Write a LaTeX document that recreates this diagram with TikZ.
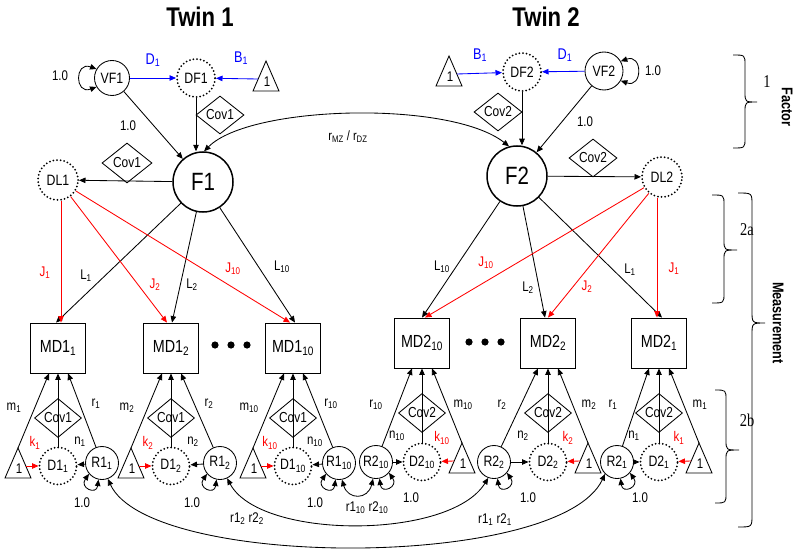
\documentclass[tikz,border=0pt]{standalone}
\usepackage{fontspec}
\setmainfont{Liberation Sans}[FakeStretch=0.82]
\newfontfamily\serifl{Liberation Serif}[FakeStretch=0.8]
\usetikzlibrary{arrows.meta,shapes.geometric}
\newcommand\sub[1]{\textsubscript{#1}}
\tikzset{
 >={Triangle[length=6.5pt,width=5.5pt]},
 lbl/.style={font=\fontsize{14}{16}\selectfont, inner sep=0pt},
 blbl/.style={font=\fontsize{15.5}{17}\selectfont, inner sep=0pt, text=blue},
 circ/.style={circle, draw, line width=0.85pt, inner sep=0pt, font=\fontsize{15}{17}\selectfont, fill=white},
 dcirc/.style={circ, line width=2pt, dash pattern=on 0pt off 3.6pt, line cap=round},
 bigc/.style={circle, draw, line width=1.5pt, minimum size=60pt, inner sep=0pt, font=\fontsize{25}{27}\selectfont},
 mdbox/.style={rectangle, draw, line width=0.85pt, minimum width=55pt, minimum height=50pt, font=\fontsize{17.5}{19}\selectfont},
 cov/.style={diamond, draw, line width=0.85pt, minimum width=48pt, minimum height=38pt, inner sep=0pt, font=\fontsize{14.5}{16}\selectfont},
 arr/.style={->, line width=0.85pt},
 dbl/.style={<->, line width=0.85pt},
 redarr/.style={arr, red},
 bluarr/.style={arr, blue},
 serlbl/.style={font=\serifl\fontsize{18}{19}\selectfont, inner sep=0pt},
 side/.style={font=\bfseries\fontsize{15.5}{17}\selectfont, rotate=-90, inner sep=0pt},
}
\newcommand\trinode[3]{%
  \draw[line width=0.85pt] (#2-13,#3+30) -- (#2,#3) -- (#2+13,#3+30) -- cycle;
  \node[lbl] (#1) at (#2+1,#3+21) {1};
  \coordinate (#1-apex) at (#2,#3);
  \coordinate (#1-r) at (#2+8,#3+18);
  \coordinate (#1-l) at (#2-8,#3+18);}
\newcommand\vbrace[7]{\draw[line width=0.85pt] (#1,#4) .. controls (#2,#4) .. (#2,#4+#7) -- (#2,#5-#7) .. controls (#2,#5) .. (#3,#5) .. controls (#2,#5) .. (#2,#5+#7) -- (#2,#6-#7) .. controls (#2,#6) .. (#1,#6);}
\newcommand\blockL[5]{%
 \trinode{T#1}{#3-40}{448}
 \node[dcirc, minimum size=37pt] (D#1) at (#3,466) {D1\sub{#2}};
 \node[circ, minimum size=33pt] (R#1) at (#4,463) {R1\sub{#2}};
 \node[cov, minimum width=47pt, minimum height=39pt] (C#1) at (#3,418) {Cov1};
 \draw[arr] (T#1-apex) -- ([xshift=-9pt]MD#1.south);
 \draw[arr] (D#1) -- (MD#1.south);
 \draw[arr] (R#1) -- ([xshift=10pt]MD#1.south);
 \draw[redarr] (T#1-r) -- (D#1);
 \draw[arr] (R#1) -- (D#1);
 \draw[dbl] (R#1.220) .. controls +(-10,14) and +(-2,16) .. (R#1.258);
 \node[lbl] (lm#1) at (#3-44,408) {m\sub{#2}};
 \node[lbl] (lr#1) at (#3+38,404) {r\sub{#2}};
 \node[lbl,text=red] (lk#1) at (#3-23,443) {k\sub{#2}};
 \node[lbl] (ln#1) at (#3+22,442) {n\sub{#2}};
 \node[lbl] (lv#1) at (#5,503) {1.0};
}
\newcommand\blockR[5]{%
 \trinode{T#1}{#3+40}{443}
 \node[dcirc, minimum size=37pt] (D#1) at (#3,462) {D2\sub{#2}};
 \node[circ, minimum size=33pt] (R#1) at (#4,462) {R2\sub{#2}};
 \node[cov, minimum width=47pt, minimum height=39pt] (C#1) at (#3,413) {Cov2};
 \draw[arr] (R#1) -- ([xshift=-10pt]MD#1.south);
 \draw[arr] (D#1) -- (MD#1.south);
 \draw[arr] (T#1-apex) -- ([xshift=10pt]MD#1.south);
 \draw[redarr] (T#1-l) -- (D#1);
 \draw[arr] (R#1) -- (D#1);
 \draw[dbl] (R#1.-40) .. controls +(10,14) and +(2,16) .. (R#1.-78);
 \node[lbl] (lr#1) at (#3-46,405) {r\sub{#2}};
 \node[lbl] (lm#1) at (#3+41,405) {m\sub{#2}};
 \node[lbl] (ln#1) at (#3-25,436) {n\sub{#2}};
 \node[lbl,text=red] (lk#1) at (#3+20,438) {k\sub{#2}};
 \node[lbl] (lv#1) at (#5,498) {1.0};
}
\begin{document}
\begin{tikzpicture}[x=1pt,y=-1pt]
\useasboundingbox (0,0) rectangle (800,559);
% titles
\node[font=\bfseries\fontsize{27}{29}\selectfont] (tw1) at (200,17) {Twin 1};
\node[font=\bfseries\fontsize{27}{29}\selectfont] (tw2) at (546,17) {Twin 2};
% ---------- twin 1 factor part
\node[circ, minimum size=35pt] (VF1) at (112,78) {VF1};
\node[dcirc, minimum size=38pt] (DF1) at (196,78) {DF1};
\trinode{Ttop1}{266}{61}
\node[bigc] (F1) at (203,182) {F1};
\node[dcirc, minimum size=40pt] (DL1) at (58,180) {DL1};
\node[cov] (CovA) at (220,115) {Cov1};
\node[cov, minimum width=50pt, minimum height=40pt] (CovB) at (127,163) {Cov1};
\draw[bluarr] (VF1) -- (DF1);
\draw[bluarr] (Ttop1-l) -- (DF1);
\draw[arr] (DF1.south) -- (DF1.south |- F1.north);
\draw[arr] (VF1) -- (F1);
\draw[arr] (F1) -- (DL1);
\draw[dbl] (VF1.150) .. controls +(-22,-8) and +(-22,8) .. (VF1.210);
\node[lbl] (v1a) at (60,76) {1.0};
\node[lbl] (v1b) at (128,126) {1.0};
\node[blbl] (lD1a) at (153,60) {D\sub{1}};
\node[blbl] (lB1a) at (241,58) {B\sub{1}};
% ---------- twin 2 factor part
\trinode{Ttop2}{449}{56}
\node[dcirc, minimum size=38pt] (DF2) at (522,72) {DF2};
\node[circ, minimum size=38pt] (VF2) at (604,71) {VF2};
\node[bigc] (F2) at (517,176) {F2};
\node[dcirc, minimum size=40pt] (DL2) at (662,177) {DL2};
\node[cov] (CovC) at (498,112) {Cov2};
\node[cov] (CovD) at (593,158) {Cov2};
\draw[bluarr] (Ttop2-r) -- (DF2);
\draw[bluarr] (VF2) -- (DF2);
\draw[arr] (DF2.south) -- (DF2.south |- F2.north);
\draw[arr] (VF2) -- (F2);
\draw[arr] (F2) -- (DL2);
\draw[dbl] (VF2.30) .. controls +(22,-8) and +(22,8) .. (VF2.-30);
\node[lbl] (v2a) at (653,71) {1.0};
\node[lbl] (v2b) at (585,122) {1.0};
\node[blbl] (lB1b) at (480,55) {B\sub{1}};
\node[blbl] (lD1b) at (565,55) {D\sub{1}};
% twin correlation
\draw[dbl] (F1.88) .. controls (250,105) and (450,100) .. (F2.105);
\node[font=\fontsize{13.5}{15}\selectfont, inner sep=0pt] (rmz) at (348,137) {r\sub{MZ} / r\sub{DZ}};
% ---------- measurement boxes
\node[mdbox] (MD11) at (58,348) {MD1\sub{1}};
\node[mdbox] (MD12) at (171,348) {MD1\sub{2}};
\node[mdbox] (MD110) at (293,348) {MD1\sub{10}};
\node[mdbox] (MD210) at (422,343) {MD2\sub{10}};
\node[mdbox] (MD22) at (548,343) {MD2\sub{2}};
\node[mdbox] (MD21) at (659,343) {MD2\sub{1}};
\foreach \dx in {215,231,247} \fill (\dx,345) circle (3.6pt);
\foreach \dx in {469,485,501} \fill (\dx,342) circle (3.6pt);
% loadings twin 1
\draw[arr] (F1) -- ([xshift=-2pt]MD11.north);
\draw[arr] (F1) -- ([xshift=1pt]MD12.north);
\draw[arr] (F1) -- ([xshift=2pt]MD110.north);
\draw[redarr] ([xshift=3pt]DL1.south) -- ([xshift=3pt]MD11.north);
\draw[redarr] (DL1) -- ([xshift=-4pt]MD12.north);
\draw[redarr] (DL1) -- ([xshift=-3pt]MD110.north);
\node[lbl] (L1a) at (86,276) {L\sub{1}};
\node[lbl] (L2a) at (192,285) {L\sub{2}};
\node[lbl] (L10a) at (282,267) {L\sub{10}};
\node[lbl,text=red] (J1a) at (45,273) {J\sub{1}};
\node[lbl,text=red] (J2a) at (155,285) {J\sub{2}};
\node[lbl,text=red] (J10a) at (233,269) {J\sub{10}};
% loadings twin 2
\draw[arr] (F2) -- (MD210.north);
\draw[arr] (F2) -- ([xshift=-3pt]MD22.north);
\draw[arr] (F2) -- ([xshift=3pt]MD21.north);
\draw[redarr] (DL2) -- ([xshift=3pt]MD210.north);
\draw[redarr] (DL2) -- (MD22.north);
\draw[redarr] ([xshift=-5pt]DL2.south) -- ([xshift=-2pt]MD21.north);
\node[lbl] (L10b) at (442,267) {L\sub{10}};
\node[lbl,text=red] (J10b) at (486,263) {J\sub{10}};
\node[lbl] (L2b) at (528,288) {L\sub{2}};
\node[lbl,text=red] (J2b) at (587,287) {J\sub{2}};
\node[lbl] (L1b) at (630,270) {L\sub{1}};
\node[lbl,text=red] (J1b) at (674,269) {J\sub{1}};
% ---------- residual blocks
\blockL{11}{1}{58}{102}{82}
\blockL{12}{2}{171}{220}{192}
\blockL{110}{10}{293}{339}{315}
\blockR{210}{10}{422}{376}{411}
\blockR{22}{2}{548}{494}{528}
\blockR{21}{1}{659}{617}{640}
% residual correlations
\draw[dbl] (R11.290) .. controls (150,570) and (560,570) .. (R21.225);
\draw[dbl] (R12.295) .. controls (260,540) and (450,540) .. (R22.250);
\draw[dbl] (R110.280) .. controls (348,500) and (368,500) .. (R210.260);
\node[lbl] (rr1) at (495,520) {r1\sub{1} r2\sub{1}};
\node[lbl] (rr2) at (247,519) {r1\sub{2} r2\sub{2}};
\node[lbl] (rr10) at (367,508) {r1\sub{10} r2\sub{10}};
% ---------- braces
\vbrace{733}{745}{757}{55}{102}{148}{10}
\vbrace{712}{724}{737}{195}{250}{303}{10}
\vbrace{715}{726}{739}{390}{450}{503}{10}
\vbrace{738}{752}{765}{193}{323}{527}{12}
\node[serlbl] (b1) at (767,82) {1};
\node[serlbl] (b2a) at (747,230) {2a};
\node[serlbl] (b2b) at (747,420) {2b};
\node[side] (fac) at (787,107) {Factor};
\node[side] (meas) at (778,323) {Measurement};
\end{tikzpicture}
\end{document}
